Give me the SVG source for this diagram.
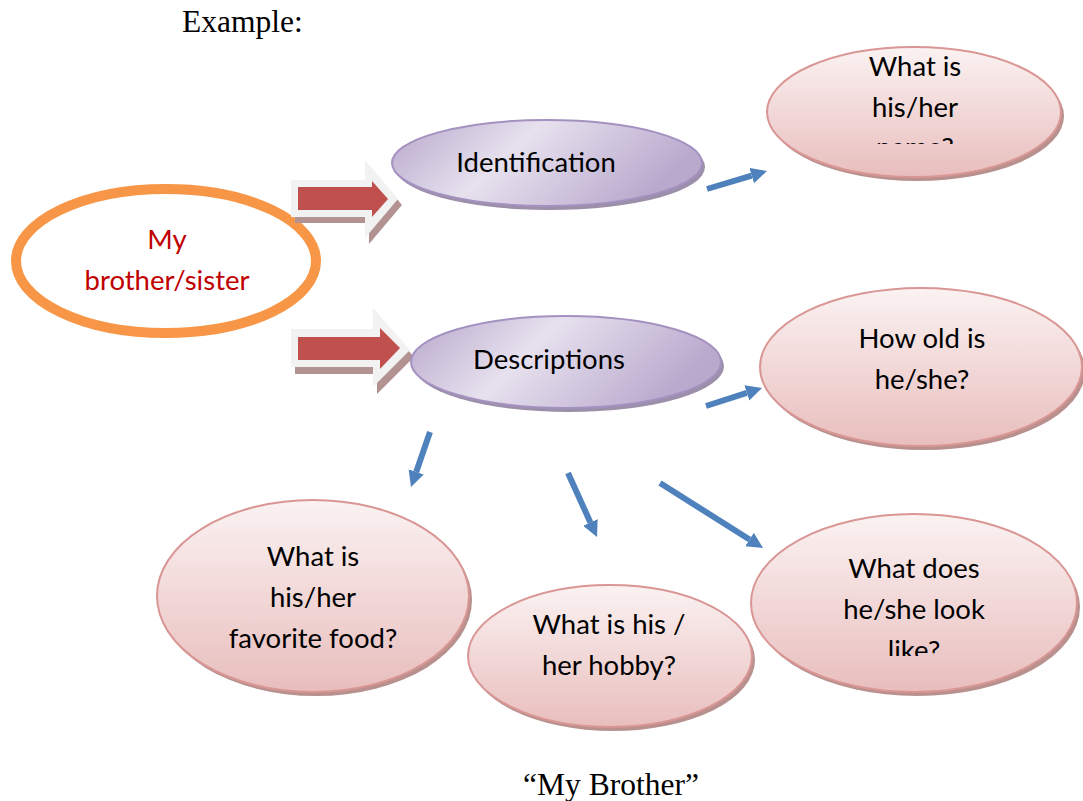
<svg xmlns="http://www.w3.org/2000/svg" width="1083" height="801" viewBox="0 0 1083 801">
<style>
.t{font-family:Lato,"Liberation Sans",sans-serif;font-size:27.5px;fill:#000;text-anchor:middle}
.r{fill:#C00000}
.s{font-family:"Liberation Serif",serif;font-size:31.5px;fill:#000}
.pk{fill:url(#pg);stroke:#D99694;stroke-width:2}
.pks{fill:#B8918F}
.pu{fill:url(#ug);stroke:#A491C0;stroke-width:2}
.pus{fill:#9B8FAA}
.bl{stroke:#4F81BD;stroke-width:6;fill:none;marker-end:url(#ah)}
</style>
<defs>
<linearGradient id="pg" x1="0" y1="0" x2="0" y2="1">
<stop offset="0" stop-color="#FBF2F2"/>
<stop offset="1" stop-color="#E8BEBD"/>
</linearGradient>
<linearGradient id="ug" x1="0" y1="0" x2="1" y2="0.3">
<stop offset="0" stop-color="#B6A6CB"/>
<stop offset="0.45" stop-color="#E7E1EE"/>
<stop offset="1" stop-color="#B9A9CD"/>
</linearGradient>
<marker id="ah" markerUnits="userSpaceOnUse" markerWidth="18" markerHeight="18" refX="0" refY="8" orient="auto">
<path d="M0,0 L16,8 L0,16 z" fill="#4F81BD"/>
</marker>
<clipPath id="c1"><rect x="760" y="40" width="320" height="104"/></clipPath>
<clipPath id="c2"><rect x="740" y="520" width="343" height="136"/></clipPath>
</defs>

<text class="s" x="182" y="32">Example:</text>

<g id="root">
<ellipse cx="166" cy="261" rx="150" ry="72" fill="#fff" stroke="#F79646" stroke-width="10"/>
<text class="t r" x="167" y="249">My</text>
<text class="t r" x="167" y="290">brother/sister</text>
</g>

<g id="arrow-red-1">
<polygon points="295,186 369,186 369,166 402,205 369,244 369,223 295,223" fill="#B39392"/>
<polygon points="291,180 365,180 365,160 398,199 365,238 365,217 291,217" fill="#F2F2F2"/>
<polygon points="298,187 372,187 372,181 388,199 372,217 372,210 298,210" fill="#C0504D"/>
</g>
<g id="arrow-red-2">
<polygon points="295,336 377,336 377,315 414,357 377,394 377,374 295,374" fill="#B39392"/>
<polygon points="291,329 373,329 373,308 410,350 373,387 373,367 291,367" fill="#F2F2F2"/>
<polygon points="298,337 380,337 380,328 400,348 380,369 380,360 298,360" fill="#C0504D"/>
</g>

<g id="identification">
<ellipse class="pus" cx="550" cy="167" rx="155" ry="43"/>
<ellipse class="pu" cx="547" cy="163" rx="155" ry="43"/>
<text class="t" x="536" y="172">Identification</text>
</g>

<g id="descriptions">
<ellipse class="pus" cx="569" cy="366" rx="155" ry="46"/>
<ellipse class="pu" cx="566" cy="362" rx="155" ry="46"/>
<text class="t" x="549" y="369">Descriptions</text>
</g>

<g id="name">
<ellipse class="pks" cx="917" cy="116" rx="147" ry="65"/>
<ellipse class="pk" cx="914" cy="112" rx="147" ry="65"/>
<g clip-path="url(#c1)">
<text class="t" x="915" y="76">What is</text>
<text class="t" x="915" y="117">his/her</text>
<text class="t" x="915" y="157">name?</text>
</g>
</g>

<g id="age">
<ellipse class="pks" cx="924" cy="371" rx="161" ry="79"/>
<ellipse class="pk" cx="921" cy="367" rx="161" ry="79"/>
<text class="t" x="922" y="348">How old is</text>
<text class="t" x="922" y="389">he/she?</text>
</g>

<g id="look">
<ellipse class="pks" cx="917" cy="607" rx="163" ry="89"/>
<ellipse class="pk" cx="914" cy="603" rx="163" ry="89"/>
<g clip-path="url(#c2)">
<text class="t" x="914" y="578">What does</text>
<text class="t" x="914" y="619">he/she look</text>
<text class="t" x="914" y="660">like?</text>
</g>
</g>

<g id="food">
<ellipse class="pks" cx="316" cy="600" rx="156" ry="96"/>
<ellipse class="pk" cx="313" cy="596" rx="156" ry="96"/>
<text class="t" x="313" y="566">What is</text>
<text class="t" x="313" y="607">his/her</text>
<text class="t" x="313" y="648">favorite food?</text>
</g>

<g id="hobby">
<ellipse class="pks" cx="613" cy="660" rx="142" ry="71"/>
<ellipse class="pk" cx="610" cy="656" rx="142" ry="71"/>
<text class="t" x="609" y="634">What is his /</text>
<text class="t" x="609" y="675">her hobby?</text>
</g>

<g id="connectors">
<line class="bl" x1="707" y1="189" x2="751.7" y2="175.6"/>
<line class="bl" x1="706" y1="406" x2="746.8" y2="392.9"/>
<line class="bl" x1="430" y1="432" x2="416.2" y2="471.9"/>
<line class="bl" x1="568" y1="473" x2="590.4" y2="522.4"/>
<line class="bl" x1="660" y1="483" x2="749.5" y2="539.5"/>
</g>

<text class="s" x="611" y="795" text-anchor="middle">“My Brother”</text>
</svg>
